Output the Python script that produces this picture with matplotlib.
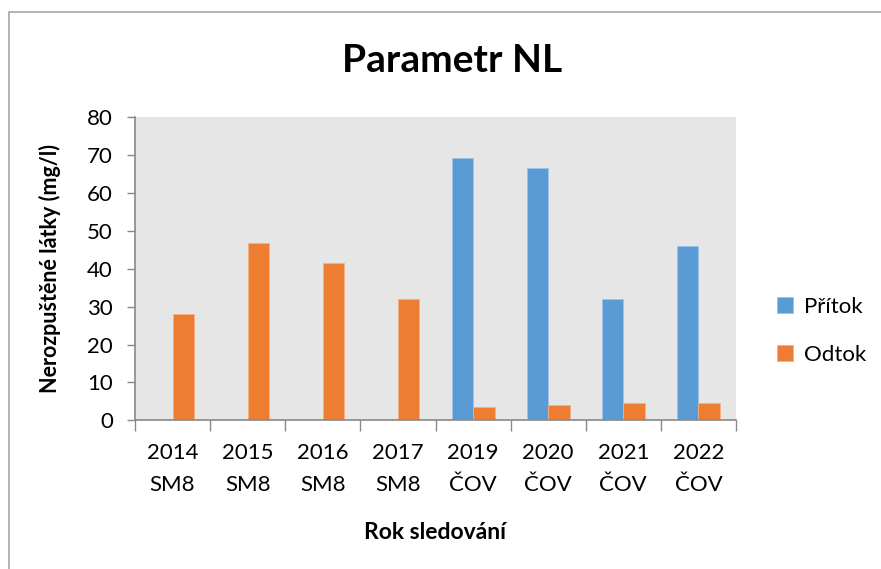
import numpy as np
import matplotlib
matplotlib.use("Agg")
import matplotlib.pyplot as plt
from matplotlib.patches import Rectangle

plt.rcParams['font.family'] = ['Lato', 'DejaVu Sans']

kategorie = ['2014\nSM8', '2015\nSM8', '2016\nSM8', '2017\nSM8',
             '2019\nČOV', '2020\nČOV', '2021\nČOV', '2022\nČOV']
pritok = [np.nan, np.nan, np.nan, np.nan, 69.2, 66.5, 31.9, 45.9]
odtok = [28.1, 46.9, 41.4, 32.1, 3.4, 4.0, 4.6, 4.6]

modra = '#5B9BD5'
oranzova = '#ED7D31'
seda = '#898989'

fig = plt.figure(figsize=(8.81, 5.69), dpi=100)
ax = fig.add_axes([135 / 881, 1 - 420.3 / 569, 601 / 881, 303 / 569])

# ramecek grafu
fig.patches.append(Rectangle((9 / 881, -0.1), 1.2, 1 - 12 / 569 + 0.1,
                             transform=fig.transFigure, fill=False,
                             edgecolor='#A6A6A6', linewidth=1.2))

x = np.arange(len(kategorie))
w = 0.2857
ax.bar(x - w / 2, pritok, w, color=modra, edgecolor='#9DC3E6', linewidth=0.6, label='Přítok')
ax.bar(x + w / 2, odtok, w, color=oranzova, edgecolor='#F4B183', linewidth=0.6, label='Odtok')

ax.set_facecolor('#E6E6E6')
ax.set_xlim(-0.5, len(kategorie) - 0.5)
ax.set_ylim(0, 80)
ax.set_yticks(range(0, 81, 10))
ax.tick_params(axis='y', labelsize=16, length=6, color=seda, width=1, pad=10)
ax.set_xticks(x)
ax.set_xticklabels(kategorie, fontsize=16, linespacing=1.75)
ax.tick_params(axis='x', length=0, pad=16)
ax.set_xticks(np.arange(-0.5, len(kategorie)), minor=True)
ax.tick_params(axis='x', which='minor', length=8, color=seda, width=1)

for s in ['top', 'right']:
    ax.spines[s].set_visible(False)
for s in ['left', 'bottom']:
    ax.spines[s].set_color(seda)
    ax.spines[s].set_linewidth(1.2)

ax.set_ylabel('Nerozpuštěné látky (mg/l)', fontsize=15.5, fontweight='bold', labelpad=19)
ax.set_xlabel('Rok sledování', fontsize=16.5, fontweight='bold', labelpad=20)
fig.text(452 / 881, 1 - 60 / 569, 'Parametr NL', fontsize=28, fontweight='bold',
         ha='center', va='center')

leg = ax.legend(loc='center left', bbox_to_anchor=(1.035, 0.295), frameon=False,
                fontsize=16, handlelength=0.7, handleheight=0.7,
                labelspacing=1.25, handletextpad=0.5)

fig.savefig('out.png', dpi=100)
